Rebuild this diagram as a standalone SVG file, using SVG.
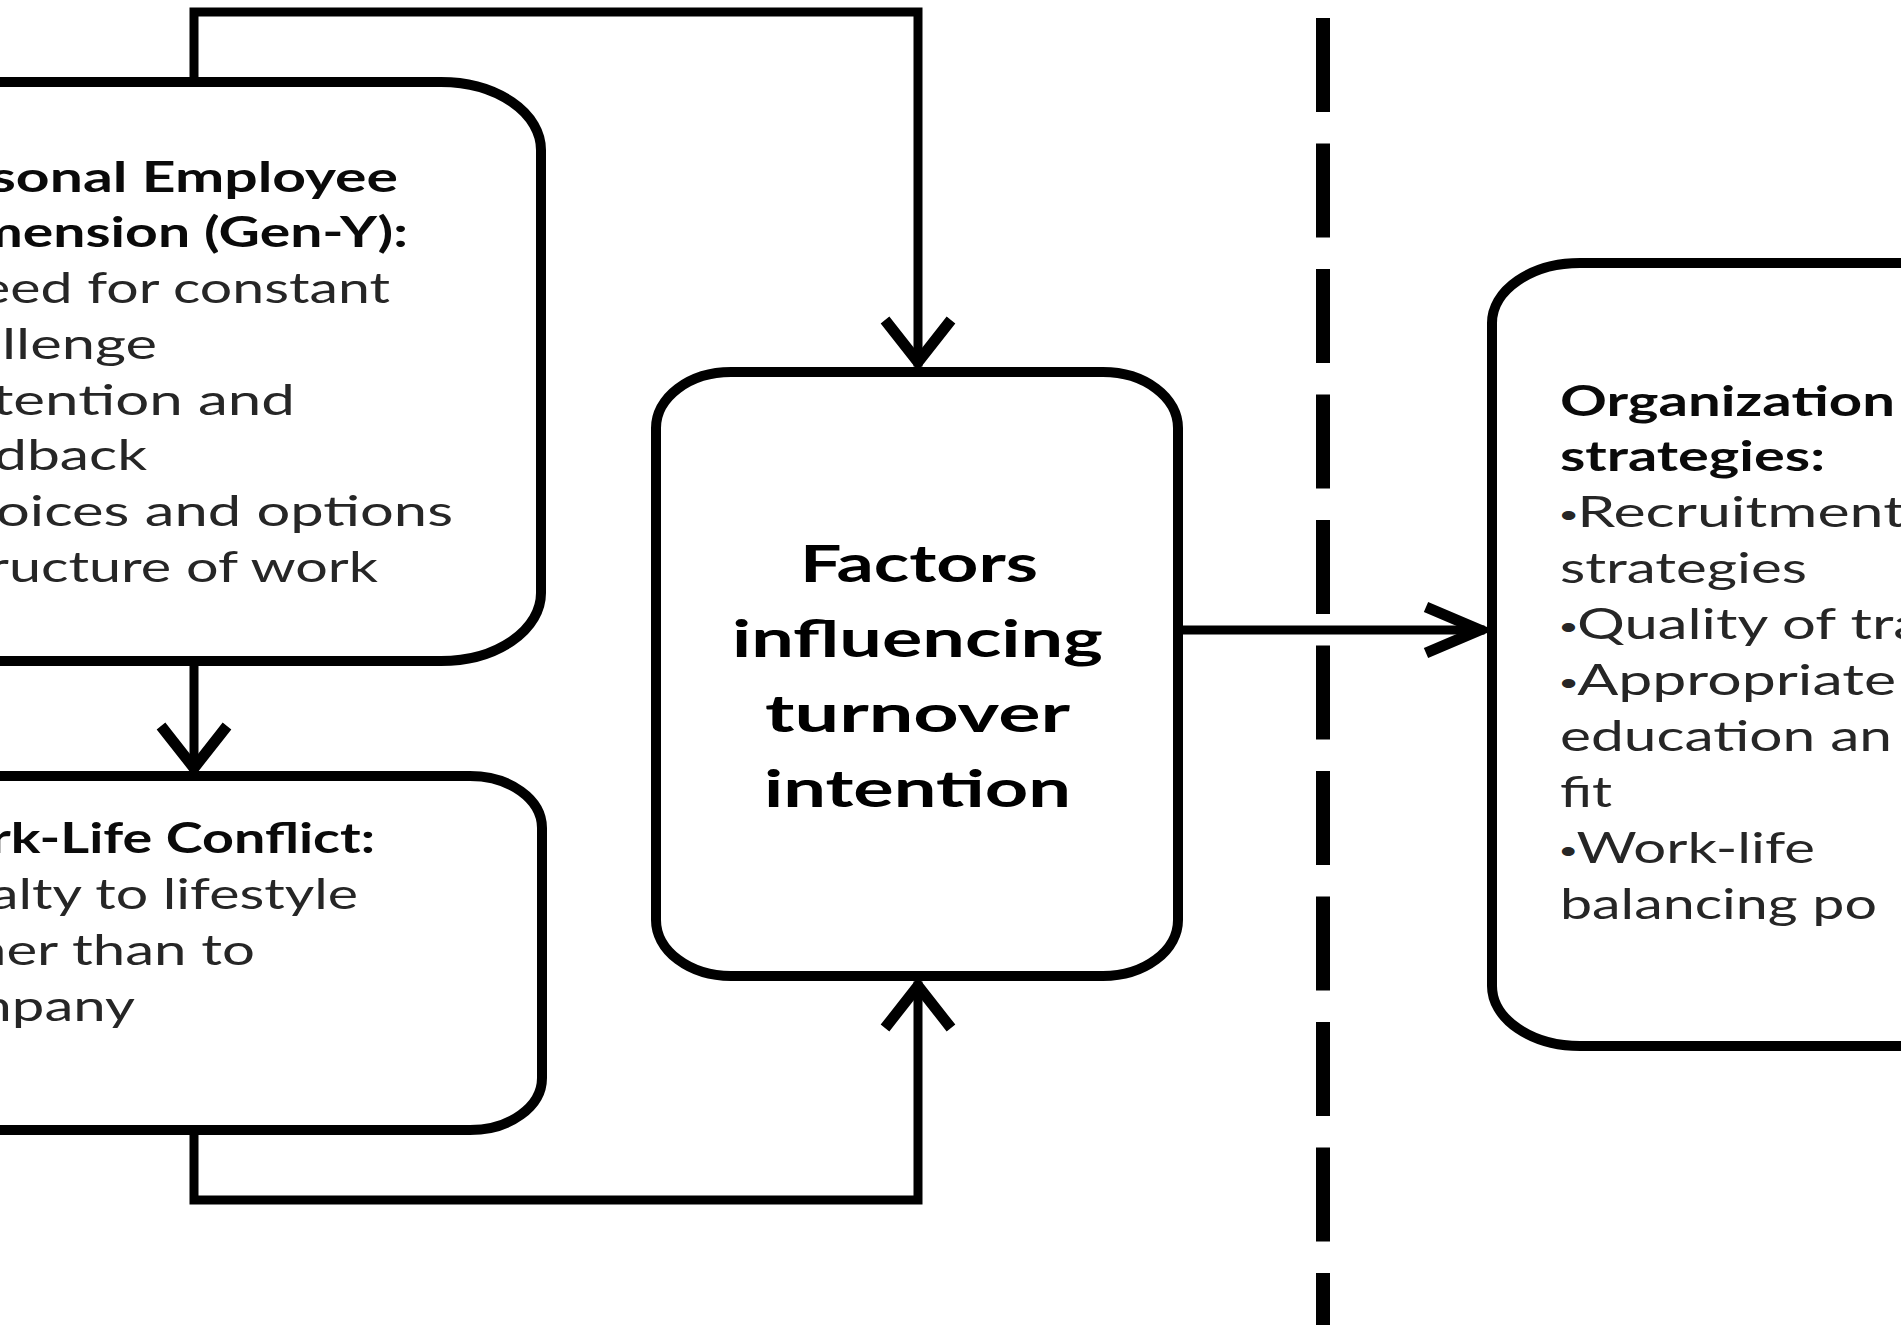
<svg xmlns="http://www.w3.org/2000/svg" width="1901" height="1325" viewBox="0 0 1901 1325">
<style>
.box{fill:#fff;stroke:#000;stroke-width:10}
.conn{fill:none;stroke:#000;stroke-width:9;stroke-linecap:square}
.head{fill:none;stroke:#000;stroke-width:11;stroke-linejoin:miter;stroke-miterlimit:10}
.sep{stroke:#000;stroke-width:14;stroke-dasharray:94 31.5}
.t{font-family:Lato,"Liberation Sans",sans-serif;font-size:42px;fill:#262626}
.b{font-weight:700;fill:#0a0a0a}
.big{font-family:Lato,"Liberation Sans",sans-serif;font-size:52px;font-weight:700;fill:#000}
.bul{font-family:"Liberation Sans",sans-serif;font-size:34px}
</style>
<rect width="1901" height="1325" fill="#fff"/>
<g id="divider">
<line class="sep" x1="1323" y1="18" x2="1323" y2="1340"/>
</g>
<g id="connectors">
<path class="conn" d="M194,82 V12 H918 V362"/>
<polyline class="head" points="885,320 918,362 951,320"/>
<path class="conn" d="M194,661 V766"/>
<polyline class="head" points="161,726 194,768 227,726"/>
<path class="conn" d="M194,1130 V1200 H918 V986"/>
<polyline class="head" points="885,1028 918,986 951,1028"/>
<path class="conn" d="M1178,630 H1480"/>
<polyline class="head" points="1426,607 1480,630 1426,653"/>
</g>
<g id="node-personal">
<rect class="box" x="-300" y="82" width="841" height="579" rx="100" ry="68"/>
<text class="t b" x="-10" y="192" textLength="408" lengthAdjust="spacingAndGlyphs">sonal Employee</text>
<text class="t b" x="-25" y="247" textLength="433" lengthAdjust="spacingAndGlyphs">mension (Gen-Y):</text>
<text class="t" x="-20" y="303" textLength="410" lengthAdjust="spacingAndGlyphs">eed for constant</text>
<text class="t" x="2" y="359" textLength="155" lengthAdjust="spacingAndGlyphs">llenge</text>
<text class="t" x="-8" y="415" textLength="303" lengthAdjust="spacingAndGlyphs">tention and</text>
<text class="t" x="-6" y="470" textLength="153" lengthAdjust="spacingAndGlyphs">dback</text>
<text class="t" x="-4" y="526" textLength="457" lengthAdjust="spacingAndGlyphs">oices and options</text>
<text class="t" x="-12" y="582" textLength="390" lengthAdjust="spacingAndGlyphs">ructure of work</text>
</g>
<g id="node-worklife">
<rect class="box" x="-300" y="776" width="842" height="354" rx="72" ry="52"/>
<text class="t b" x="-10" y="853" textLength="385" lengthAdjust="spacingAndGlyphs">rk-Life Conflict:</text>
<text class="t" x="-10" y="909" textLength="368" lengthAdjust="spacingAndGlyphs">alty to lifestyle</text>
<text class="t" x="-26" y="965" textLength="281" lengthAdjust="spacingAndGlyphs">her than to</text>
<text class="t" x="-36" y="1021" textLength="171" lengthAdjust="spacingAndGlyphs">mpany</text>
</g>
<g id="node-factors">
<rect class="box" x="656" y="372" width="522" height="604" rx="75" ry="56"/>
<text class="big" x="800" y="582" textLength="238" lengthAdjust="spacingAndGlyphs">Factors</text>
<text class="big" x="732" y="657" textLength="371" lengthAdjust="spacingAndGlyphs">influencing</text>
<text class="big" x="765" y="732" textLength="305" lengthAdjust="spacingAndGlyphs">turnover</text>
<text class="big" x="764" y="807" textLength="307" lengthAdjust="spacingAndGlyphs">intention</text>
</g>
<g id="node-strategies">
<rect class="box" x="1492" y="263" width="800" height="783" rx="88" ry="60"/>
<text class="t b" x="1560" y="416" textLength="335" lengthAdjust="spacingAndGlyphs">Organization</text>
<text class="t b" x="1560" y="471" textLength="265" lengthAdjust="spacingAndGlyphs">strategies:</text>
<text class="t" x="1560" y="527" textLength="345" lengthAdjust="spacingAndGlyphs"><tspan class="bul">•</tspan>Recruitment</text>
<text class="t" x="1560" y="583" textLength="247" lengthAdjust="spacingAndGlyphs">strategies</text>
<text class="t" x="1560" y="639" textLength="363" lengthAdjust="spacingAndGlyphs"><tspan class="bul">•</tspan>Quality of tra</text>
<text class="t" x="1560" y="695" textLength="336" lengthAdjust="spacingAndGlyphs"><tspan class="bul">•</tspan>Appropriate</text>
<text class="t" x="1560" y="751" textLength="332" lengthAdjust="spacingAndGlyphs">education an</text>
<text class="t" x="1560" y="807" textLength="52" lengthAdjust="spacingAndGlyphs">fit</text>
<text class="t" x="1560" y="863" textLength="255" lengthAdjust="spacingAndGlyphs"><tspan class="bul">•</tspan>Work-life</text>
<text class="t" x="1560" y="919" textLength="317" lengthAdjust="spacingAndGlyphs">balancing po</text>
</g>
</svg>
